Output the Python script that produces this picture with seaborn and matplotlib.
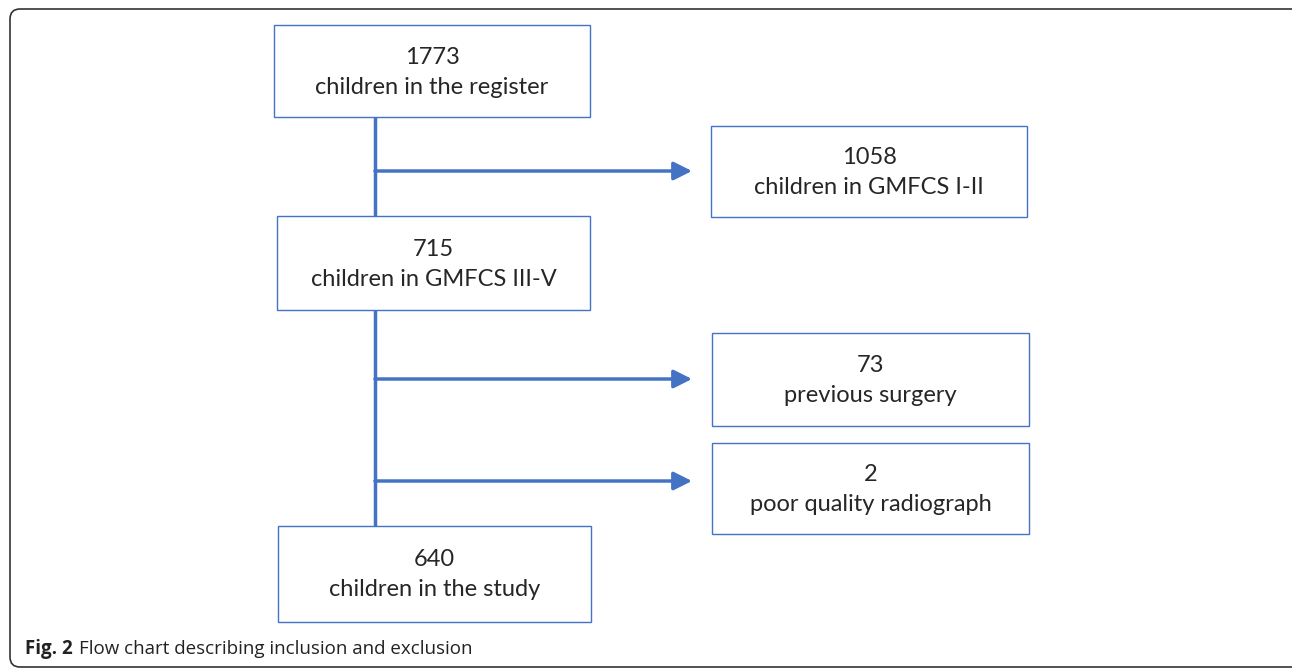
import matplotlib
matplotlib.use("Agg")
import matplotlib.pyplot as plt
import seaborn as sns
from matplotlib.patches import Rectangle, FancyBboxPatch

# Flow chart content
counts = [1773, 1058, 715, 73, 2, 640]
labels = [
    "children in the register",
    "children in GMFCS I-II",
    "children in GMFCS III-V",
    "previous surgery",
    "poor quality radiograph",
    "children in the study",
]
caption_bold = "Fig. 2"
caption_text = "Flow chart describing inclusion and exclusion"

# Layout (pixel coordinates, y grows downward): left, top, right, bottom
boxes = [
    (274, 25, 590, 117),
    (711, 126, 1027, 217),
    (277, 216, 590, 310),
    (712, 333, 1029, 426),
    (712, 443, 1029, 534),
    (278, 526, 591, 622),
]
spine_x = 375
spine_segments = [(117, 216), (310, 526)]
arrow_rows = [171, 379, 481]
arrow_end = 692

line_blue = "#4472C4"
text_color = "#262626"

sns.set_style("white")
plt.rcParams["font.family"] = ["Lato", "DejaVu Sans"]

fig = plt.figure(figsize=(12.92, 6.68), dpi=100)
ax = fig.add_axes([0, 0, 1, 1])
ax.set_xlim(0, 1292)
ax.set_ylim(668, 0)
ax.axis("off")

# outer frame of the figure panel
frame = FancyBboxPatch((10, 9), 1300, 658, boxstyle="round,pad=0,rounding_size=10",
                       fill=False, edgecolor="#333333", linewidth=1.2)
ax.add_patch(frame)

# boxes with two text lines
for (l, t, r, b), n, lab in zip(boxes, counts, labels):
    ax.add_patch(Rectangle((l, t), r - l, b - t, fill=False,
                           edgecolor=line_blue, linewidth=1.0))
    cx = (l + r) / 2
    cy = (t + b) / 2
    ax.text(cx, cy - 14, str(n), ha="center", va="center",
            fontsize=17, color=text_color)
    ax.text(cx, cy + 16, lab, ha="center", va="center",
            fontsize=17, color=text_color)

# vertical connector
for y0, y1 in spine_segments:
    ax.plot([spine_x, spine_x], [y0, y1], color=line_blue, linewidth=2.5,
            solid_capstyle="butt")

# exclusion arrows
for y in arrow_rows:
    ax.annotate("", xy=(arrow_end, y), xytext=(spine_x, y),
                arrowprops=dict(arrowstyle="-|>,head_length=1.1,head_width=0.55",
                                color=line_blue, linewidth=2.5,
                                shrinkA=0, shrinkB=0))

# caption
cap = ax.text(25, 649, caption_bold, ha="left", va="center", fontsize=13.5,
              fontweight="bold", color="#222222", family=["Open Sans", "DejaVu Sans"])
fig.canvas.draw()
bb = cap.get_window_extent().transformed(ax.transData.inverted())
ax.text(bb.x1 + 6, 649, caption_text, ha="left", va="center", fontsize=13.5,
        color="#222222", family=["Open Sans", "DejaVu Sans"])

fig.savefig("out.png", dpi=100)
